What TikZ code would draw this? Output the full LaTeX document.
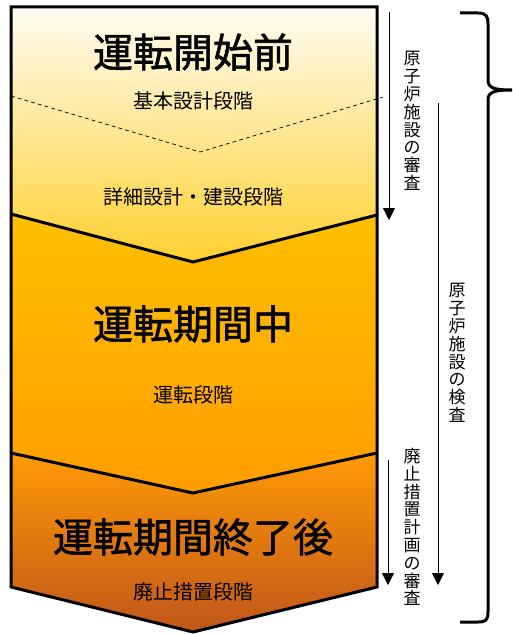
\documentclass[tikz,border=0pt]{standalone}
\usepackage{fontspec}
\newfontfamily\jp{Noto Sans CJK JP}
\newfontfamily\jpheavy[FakeBold=1.4]{Noto Sans CJK JP}
\usetikzlibrary{arrows.meta, positioning}
\tikzset{>={Triangle[width=12pt,length=12pt]}}
\definecolor{creamtop}{HTML}{FFFDF3}
\definecolor{creambot}{HTML}{FFD030}
\definecolor{goldtop}{HTML}{FFC000}
\definecolor{goldbot}{HTML}{FF9D00}
\definecolor{rusttop}{HTML}{FF9A05}
\definecolor{rustbot}{HTML}{C0561A}
\tikzset{
  title/.style = {font=\jpheavy\fontsize{40}{40}\selectfont},
  phase/.style = {font=\jp\fontsize{20}{20}\selectfont},
  tate/.style = {font=\jp\fontsize{17}{17.8}\selectfont, align=center, inner sep=0pt},
  border/.style = {line width=3pt, line join=miter},
  flow/.style = {->, line width=0.9pt},
}

\begin{document}
\begin{tikzpicture}[x=1pt, y=-1pt]
	\useasboundingbox (0,0) rectangle (513,634);
	% the three bands
	\shade[top color=creamtop, bottom color=creambot]
		(11,7) -- (377,7) -- (377,215) -- (193,262) -- (11,214) -- cycle;
	\shade[top color=goldtop, bottom color=goldbot]
		(11,214) -- (193,262) -- (377,215) -- (377,453) -- (193,493) -- (11,453) -- cycle;
	\shade[top color=rusttop, bottom color=rustbot]
		(11,453) -- (193,493) -- (377,453) -- (377,587) -- (193,632) -- (11,587) -- cycle;
	\draw[dashed, dash pattern=on 4pt off 3pt, line width=0.7pt]
		(11,96) -- (200,152) -- (383,97);
	\draw[border] (11,214) -- (193,262) -- (377,215);
	\draw[border] (11,453) -- (193,493) -- (377,453);
	\draw[border] (11,7) -- (377,7) -- (377,587) -- (193,632) -- (11,587) -- cycle;

	\node (pre) [title] at (193,52) {運転開始前};
	\node (basic) [phase] at (193,101) {基本設計段階};
	\node (build) [phase] at (193,197) {詳細設計・建設段階};
	\node (run) [title] at (193,324) {運転期間中};
	\node (oper) [phase] at (193,395) {運転段階};
	\node (post) [title] at (193,537) {運転期間終了後};
	\node (decom) [phase] at (193,592) {廃止措置段階};

	% reviews and inspections
	\coordinate (r1) at (389,12);
	\coordinate (r1e) at (389,220);
	\coordinate (i1) at (438,103);
	\coordinate (i1e) at (438,585);
	\coordinate (r2) at (388,460);
	\coordinate (r2e) at (388,585);
	\draw[flow] (r1) -- (r1e);
	\draw[flow] (i1) -- (i1e);
	\draw[flow] (r2) -- (r2e);
	\node (review) [tate] at (412,121) {原\\子\\炉\\施\\設\\の\\審\\査};
	\node (inspect) [tate] at (457,353) {原\\子\\炉\\施\\設\\の\\検\\査};
	\node (plan) [tate] at (412,527) {廃\\止\\措\\置\\計\\画\\の\\審\\査};

	\draw[line width=3pt]
		(460,13) -- (478,13) .. controls (486,13) and (488,16) .. (488,24)
		-- (488,80) .. controls (488,88) and (494,90) .. (512,90)
		.. controls (494,90) and (488,92) .. (488,100)
		-- (488,612) .. controls (488,620) and (486,622) .. (478,622) -- (460,622);
\end{tikzpicture}
\end{document}
